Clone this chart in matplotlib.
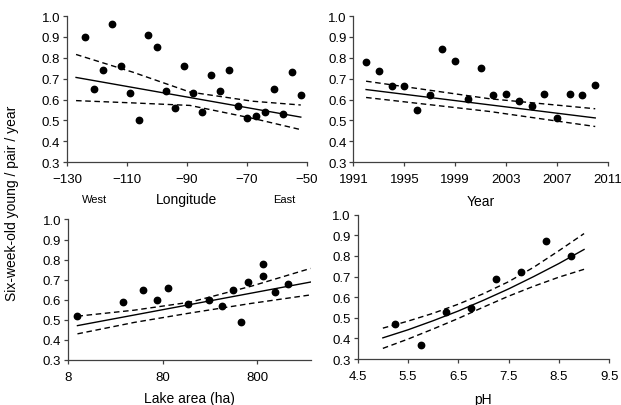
import matplotlib
matplotlib.use("Agg")
import matplotlib.pyplot as plt
from matplotlib.ticker import FixedLocator, NullLocator, FixedFormatter
import matplotlib.transforms as mtransforms

plt.rcParams['font.family'] = ['Liberation Sans', 'DejaVu Sans']

# --- data ---
# longitude panel
lon = [-124, -121, -118, -115, -112, -109, -106, -103, -100, -97, -94, -91, -88,
       -85, -82, -79, -76, -73, -70, -67, -64, -61, -58, -55, -52]
lon_young = [0.90, 0.65, 0.74, 0.96, 0.76, 0.63, 0.50, 0.91, 0.85, 0.64, 0.56, 0.76, 0.63,
             0.54, 0.72, 0.64, 0.74, 0.57, 0.51, 0.52, 0.54, 0.65, 0.53, 0.73, 0.62]
lon_fit_x = [-127, -52]
lon_fit = [0.706, 0.516]
lon_ci_x = [-127, -108, -89, -68, -52]
lon_ci_hi = [0.816, 0.731, 0.636, 0.592, 0.574]
lon_ci_lo = [0.595, 0.584, 0.572, 0.510, 0.456]

# year panel
year = list(range(1992, 2011))
year_young = [0.781, 0.735, 0.666, 0.666, 0.551, 0.624, 0.842, 0.784, 0.605, 0.751,
              0.620, 0.629, 0.594, 0.568, 0.626, 0.511, 0.626, 0.620, 0.671]
year_fit_x = [1992, 2010]
year_fit = [0.648, 0.512]
year_ci_x = [1992, 2001.7, 2010]
year_ci_hi = [0.688, 0.604, 0.556]
year_ci_lo = [0.610, 0.543, 0.471]

# lake area panel
area = [10, 30, 50, 69, 90, 148, 247, 343, 441, 541, 637, 934, 934, 1222, 1690]
area_young = [0.52, 0.59, 0.65, 0.60, 0.66, 0.58, 0.60, 0.57, 0.65, 0.49, 0.69, 0.78, 0.72,
              0.64, 0.68]
area_fit_x = [10, 2940]
area_fit = [0.471, 0.688]
area_ci_x = [10, 40, 157, 700, 2940]
area_ci_hi = [0.518, 0.548, 0.588, 0.668, 0.756]
area_ci_lo = [0.430, 0.487, 0.534, 0.582, 0.624]

# pH panel
ph = [5.25, 5.75, 6.25, 6.75, 7.25, 7.75, 8.25, 8.75]
ph_young = [0.47, 0.37, 0.53, 0.55, 0.69, 0.72, 0.87, 0.80]
ph_fit_x = [5.0, 5.5, 6.0, 6.5, 7.0, 7.5, 8.0, 8.5, 9.0]
ph_fit = [0.403, 0.442, 0.486, 0.533, 0.585, 0.640, 0.700, 0.763, 0.831]
ph_ci_hi = [0.450, 0.484, 0.522, 0.566, 0.617, 0.675, 0.745, 0.825, 0.908]
ph_ci_lo = [0.352, 0.397, 0.446, 0.497, 0.552, 0.605, 0.653, 0.697, 0.735]

yticks = [0.3, 0.4, 0.5, 0.6, 0.7, 0.8, 0.9, 1.0]

fig = plt.figure(figsize=(6.21, 4.06), dpi=100)
ax1 = fig.add_axes([0.108, 0.598, 0.386, 0.360])
ax2 = fig.add_axes([0.569, 0.598, 0.410, 0.360])
ax3 = fig.add_axes([0.110, 0.111, 0.390, 0.346])
ax4 = fig.add_axes([0.576, 0.113, 0.405, 0.356])

dash = (0, (4, 2.6))
spine_col = '#404040'


def style(ax):
    for s in ['top', 'right']:
        ax.spines[s].set_visible(False)
    for s in ['left', 'bottom']:
        ax.spines[s].set_color(spine_col)
        ax.spines[s].set_linewidth(0.9)
    ax.set_ylim(0.3, 1.0)
    ax.set_yticks(yticks)
    ax.set_yticklabels(['%.1f' % v for v in yticks])
    ax.tick_params(direction='out', length=3, width=0.9, color=spine_col,
                   labelsize=9.5, pad=2)
    ax.tick_params(axis='x', pad=5)


def draw(ax, x, y, fx, fy, cx, chi, clo):
    ax.plot(x, y, 'o', color='black', markersize=4.6, zorder=3, clip_on=False)
    ax.plot(fx, fy, '-', color='black', lw=1.0)
    ax.plot(cx, chi, color='black', lw=1.0, linestyle=dash)
    ax.plot(cx, clo, color='black', lw=1.0, linestyle=dash)


draw(ax1, lon, lon_young, lon_fit_x, lon_fit, lon_ci_x, lon_ci_hi, lon_ci_lo)
style(ax1)
ax1.set_xlim(-130, -50)
ax1.set_xticks([-130, -110, -90, -70, -50])
ax1.set_xlabel('Longitude', fontsize=10, labelpad=5)
tr = mtransforms.blended_transform_factory(ax1.transData, ax1.transAxes)
ax1.text(-121, -0.255, 'West', transform=tr, ha='center', va='center', fontsize=8)
ax1.text(-57.5, -0.255, 'East', transform=tr, ha='center', va='center', fontsize=8)

draw(ax2, year, year_young, year_fit_x, year_fit, year_ci_x, year_ci_hi, year_ci_lo)
style(ax2)
ax2.set_xlim(1991, 2011)
ax2.set_xticks(range(1991, 2012, 4))
ax2.set_xlabel('Year', fontsize=10, labelpad=6)

draw(ax3, area, area_young, area_fit_x, area_fit, area_ci_x, area_ci_hi, area_ci_lo)
ax3.set_xscale('log')
style(ax3)
ax3.set_xlim(8, 2940)
ax3.xaxis.set_major_locator(FixedLocator([8, 80, 800]))
ax3.xaxis.set_major_formatter(FixedFormatter(['8', '80', '800']))
ax3.xaxis.set_minor_locator(NullLocator())
ax3.set_xlabel('Lake area (ha)', fontsize=10, labelpad=6)

draw(ax4, ph, ph_young, ph_fit_x, ph_fit, ph_fit_x, ph_ci_hi, ph_ci_lo)
style(ax4)
ax4.set_xlim(4.5, 9.5)
ax4.set_xticks([4.5, 5.5, 6.5, 7.5, 8.5, 9.5])
ax4.set_xlabel('pH', fontsize=10, labelpad=7)

fig.text(0.02, 0.5, 'Six-week-old young / pair / year', rotation=90,
         ha='center', va='center', fontsize=10)

fig.savefig('out.png', dpi=100)
